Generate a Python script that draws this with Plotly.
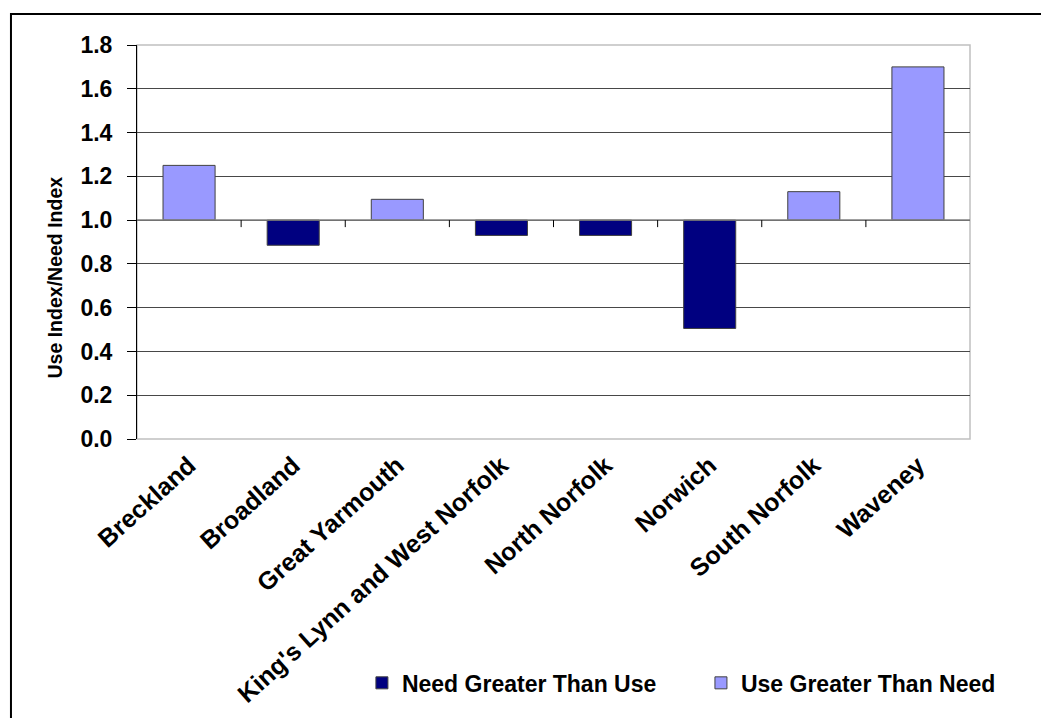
import plotly.graph_objects as go

# Use index / need index ratio by district (baseline 1.0)
districts = ["Breckland", "Broadland", "Great Yarmouth", "King's Lynn and West Norfolk",
             "North Norfolk", "Norwich", "South Norfolk", "Waveney"]
ratios = [1.25, 0.885, 1.095, 0.93, 0.93, 0.505, 1.13, 1.70]
baseline = 1.0

need_name = "Need Greater Than Use"
use_name = "Use Greater Than Need"
need_color = "#000080"
use_color = "#9999FF"

need_vals = [r - baseline if r < baseline else None for r in ratios]
use_vals = [r - baseline if r >= baseline else None for r in ratios]

FONT = "Liberation Sans, Arial, sans-serif"

fig = go.Figure()
fig.add_trace(go.Bar(
    x=districts, y=need_vals, base=baseline, name=need_name, legend="legend",
    marker=dict(color=need_color, line=dict(color="#404040", width=1)),
    width=0.5,
))
fig.add_trace(go.Bar(
    x=districts, y=use_vals, base=baseline, name=use_name, legend="legend2",
    marker=dict(color=use_color, line=dict(color="#404040", width=1)),
    width=0.5,
))

shapes = []
# plot-area frame drawn between the grid and the bars
shapes.append(dict(type="rect", xref="paper", yref="paper", x0=0, x1=1, y0=0, y1=1,
                   line=dict(color="#c0c0c0", width=1.5), layer="between"))
# category axis crossing at the baseline
shapes.append(dict(type="line", xref="paper", yref="y", x0=0, x1=1, y0=baseline, y1=baseline,
                   line=dict(color="#808080", width=1.5), layer="above"))
# tick marks on the baseline between categories
for k in range(len(districts) - 1):
    shapes.append(dict(type="line", xref="x", yref="y", ysizemode="pixel", yanchor=baseline,
                       x0=k + 0.5, x1=k + 0.5, y0=0, y1=-7,
                       line=dict(color="#000000", width=1), layer="above"))
# outer chart border
shapes.append(dict(type="rect", xref="paper", yref="paper",
                   x0=-0.1513, x1=1.096, y0=-0.75, y1=1.0787,
                   line=dict(color="#000000", width=2), layer="above"))

legend_font = dict(family=FONT, size=23, color="#000000", weight="bold")

fig.update_layout(
    width=1041, height=718,
    margin=dict(l=137, r=71, t=45, b=279, autoexpand=False),
    paper_bgcolor="white", plot_bgcolor="white",
    barmode="overlay",
    font=dict(family=FONT, color="#000000"),
    showlegend=True,
    legend=dict(orientation="h", x=0.270, y=-0.619, xanchor="left", yanchor="middle",
                font=legend_font, bgcolor="rgba(0,0,0,0)"),
    legend2=dict(orientation="h", x=0.677, y=-0.619, xanchor="left", yanchor="middle",
                 font=legend_font, bgcolor="rgba(0,0,0,0)"),
    shapes=shapes,
    annotations=[dict(text="<b>Use Index/Need Index</b>", xref="paper", yref="paper",
                      x=-0.0984, y=0.41, xanchor="center", yanchor="middle",
                      textangle=-90, showarrow=False,
                      font=dict(family=FONT, size=19.5, color="#000000"))],
)

fig.update_yaxes(
    range=[0, 1.8], dtick=0.2, tick0=0, tickformat=".1f", automargin=False,
    showgrid=True, gridcolor="#484848", gridwidth=1.2,
    zeroline=False, showline=True, linecolor="#000000", linewidth=1,
    ticks="outside", ticklen=9, tickcolor="#000000", ticklabelstandoff=10,
    tickfont=dict(family=FONT, size=23, color="#000000", weight="bold"),
)
fig.update_xaxes(
    type="category", range=[-0.5, len(districts) - 0.5], automargin=False,
    showgrid=False, showline=False, ticks="", tickangle=-42, ticklabelstandoff=6,
    tickfont=dict(family=FONT, size=25, color="#000000", weight="bold"),
)

fig.write_html("out.html")
